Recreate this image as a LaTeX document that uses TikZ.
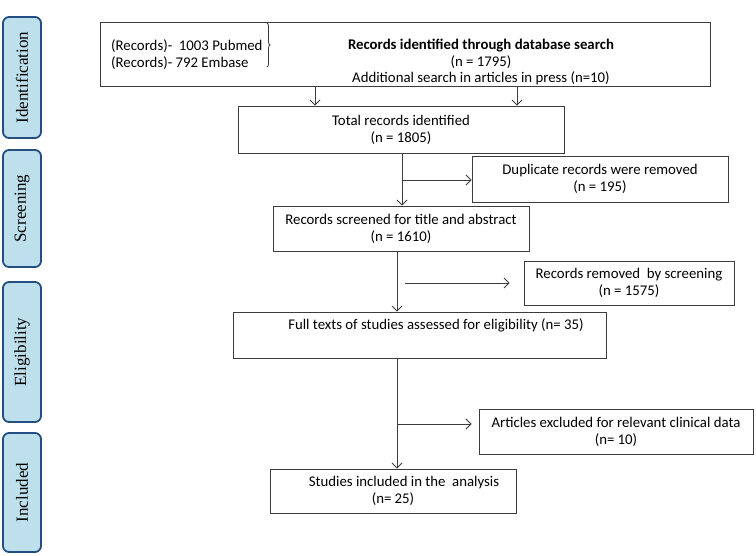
\documentclass[tikz,border=0pt]{standalone}
\usepackage{fontspec}
\setmainfont{Carlito}
\newfontfamily\stagefont{Liberation Serif}
\usepackage{tikz}
\usetikzlibrary{arrows.meta, positioning, calc, decorations.pathreplacing}

\definecolor{stagefill}{RGB}{190,224,236}
\definecolor{stageline}{RGB}{36,78,128}
\definecolor{boxline}{RGB}{60,60,60}

\begin{document}
\begin{tikzpicture}[
    x=1pt, y=-1pt,
    box/.style={rectangle, draw=boxline, line width=0.9pt, fill=white, align=center, inner sep=2pt,
        font=\fontsize{14.8}{17}\selectfont},
    txt/.style={align=center, inner sep=0pt, font=\fontsize{14.8}{16.5}\selectfont},
    stage/.style={rectangle, rounded corners=6pt, draw=stageline, line width=1.8pt, fill=stagefill,
        rotate=90, minimum height=38pt, font=\stagefont\fontsize{17}{20}\selectfont},
    arrow/.style={-{Straight Barb[length=5pt, width=10pt]}, line width=0.8pt, draw=boxline}
]
\useasboundingbox (0,0) rectangle (756,555);

% Stage labels
\node[stage, minimum width=121pt] (ident) at (22,77.5) {Identification};
\node[stage, minimum width=117pt] (screen) at (22,208.5) {Screening};
\node[stage, minimum width=140pt] (elig) at (22,352) {Eligibility};
\node[stage, minimum width=119pt] (incl) at (22,492.5) {Included};

% Identification
\node[box, minimum width=610pt, minimum height=64pt] (search) at (405,54) {};
\node[txt, align=left, anchor=west] (sources) at (111,54.5) {(Records)-\ \ 1003 Pubmed\\(Records)- 792 Embase};
\draw[line width=0.8pt, draw=boxline, decorate, decoration={brace, amplitude=3pt}] (267,23) -- (267,67);
\node[txt] (dbsearch) at (481,62) {\textbf{Records identified through database search}\\(n = 1795)\\Additional search in articles in press (n=10)};

\node[box, minimum width=326pt, minimum height=47pt] (total) at (401,129.5) {Total records identified\\(n = 1805)};

% Screening
\node[box, minimum width=256pt, minimum height=46pt] (dup) at (600,179) {Duplicate records were removed\\(n = 195)};
\node[box, minimum width=256pt, minimum height=45pt] (screened) at (401,228.5) {Records screened for title and abstract\\(n = 1610)};
\node[box, minimum width=210pt, minimum height=44pt] (removed) at (629,283) {Records removed\ \ by screening\\(n = 1575)};

% Eligibility
\node[box, minimum width=373pt, minimum height=46pt] (fulltext) at (419.5,335) {};
\node[txt] (fulltextlbl) at (436,325) {Full texts of studies assessed for eligibility (n= 35)};
\node[box, minimum width=274pt, minimum height=45pt] (excluded) at (616,431.5) {Articles excluded for relevant clinical data\\(n= 10)};

% Included
\node[box, minimum width=246pt, minimum height=44pt] (included) at (393,491) {\hspace*{22pt}Studies included in the\ \ analysis\\(n= 25)};

% Arrows
\coordinate (a1) at (315,0);
\coordinate (a2) at (517,0);
\coordinate (t1) at (402,0);
\coordinate (t2) at (397,0);
\draw[arrow] (search.south -| a1) -- (total.north -| a1);
\draw[arrow] (search.south -| a2) -- (total.north -| a2);

\draw[arrow] (total.south -| t1) -- (screened.north -| t1);
\draw[arrow] ($(dup.west -| t1)+(0,1)$) -- ($(dup.west)+(0,1)$);

\draw[arrow] (screened.south -| t2) -- (fulltext.north -| t2);
\draw[arrow] ($(removed.west -| t2)+(8,0)$) -- ($(removed.west)+(-14,0)$);

\draw[arrow] (fulltext.south -| t2) -- (included.north -| t2);
\draw[arrow] ($(excluded.west -| t2)+(0,-7.5)$) -- ($(excluded.west)+(-7,-7.5)$);

\end{tikzpicture}
\end{document}
